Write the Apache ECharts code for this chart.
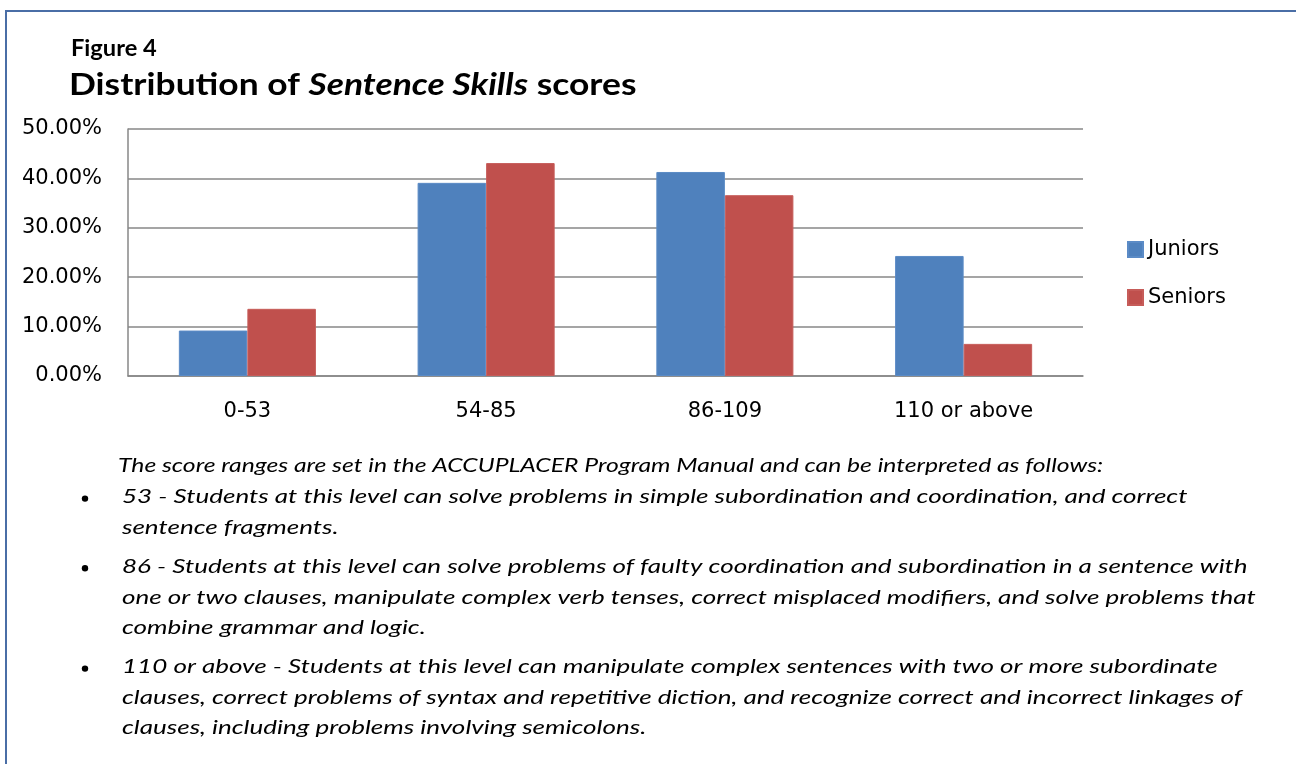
<!DOCTYPE html>
<html>
<head>
<meta charset="utf-8">
<script src="https://cdn.jsdelivr.net/npm/echarts@6/dist/echarts.min.js"></script>
<style>
html,body{margin:0;padding:0;background:#fff;}
#chart{width:1296px;height:764px;}
</style>
</head>
<body>
<div id="chart"></div>
<script>
const categories = ['0-53', '54-85', '86-109', '110 or above'];
const juniors = [0.092, 0.391, 0.413, 0.243];
const seniors = [0.136, 0.431, 0.366, 0.065];
const seriesNames = ['Juniors', 'Seniors'];
const yTicks = { min: 0, max: 0.5, interval: 0.1 };
const noteIntro = 'The score ranges are set in the ACCUPLACER Program Manual and can be interpreted as follows:';
const bullets = [
  ['53 - Students at this level can solve problems in simple subordination and coordination, and correct', 'sentence fragments.'],
  ['86 - Students at this level can solve problems of faulty coordination and subordination in a sentence with', 'one or two clauses, manipulate complex verb tenses, correct misplaced modifiers, and solve problems that', 'combine grammar and logic.'],
  ['110 or above - Students at this level can manipulate complex sentences with two or more subordinate', 'clauses, correct problems of syntax and repetitive diction, and recognize correct and incorrect linkages of', 'clauses, including problems involving semicolons.']
];

const FONT = 'Lato, "Open Sans", sans-serif';
const AXFONT = '"DejaVu Sans", sans-serif';
const chart = echarts.init(document.getElementById('chart'), null, { renderer: 'canvas' });

const graphics = [
  { type: 'rect', shape: { x: 6, y: 11, width: 1400, height: 900 }, style: { fill: 'none', stroke: '#4a6ea6', lineWidth: 2 }, silent: true },
  { type: 'text', x: 71, y: 38, scaleX: 1.075, style: { text: 'Figure 4', font: 'bold 22px ' + FONT, fill: '#000' } },
  { type: 'text', x: 69, y: 70, scaleX: 1.18, style: {
      text: '{b|Distribution of }{bi|Sentence Skills}{b| scores}',
      rich: {
        b: { font: 'bold 30px ' + FONT, fill: '#000' },
        bi: { font: 'italic bold 30px ' + FONT, fill: '#000' }
      }
  } }
];
const lineStep = 30.6;
let y = 456;
graphics.push({ type: 'text', x: 118, y: y, scaleX: 1.30, style: { text: noteIntro, font: 'italic 19px ' + FONT, fill: '#000' } });
y += lineStep + 1;
bullets.forEach(function (lines) {
  graphics.push({ type: 'circle', shape: { cx: 85, cy: y + 11, r: 3.2 }, style: { fill: '#000' } });
  lines.forEach(function (t) {
    graphics.push({ type: 'text', x: 122, y: y, scaleX: 1.37, style: { text: t, font: 'italic 19px ' + FONT, fill: '#000' } });
    y += lineStep;
  });
  y += 8.5;
});

chart.setOption({
  animation: false,
  textStyle: { fontFamily: AXFONT },
  grid: { left: 128, top: 129, right: 213, bottom: 388, containLabel: false },
  legend: {
    orient: 'vertical', left: 1127, top: 239, padding: 0,
    itemWidth: 15, itemHeight: 15, itemGap: 27,
    icon: 'rect',
    textStyle: { fontSize: 21, color: '#000', fontFamily: AXFONT, lineHeight: 21 },
    data: seriesNames
  },
  xAxis: {
    type: 'category', data: categories,
    axisLine: { lineStyle: { color: '#878787', width: 1.5 } },
    axisTick: { show: false },
    axisLabel: { fontSize: 21, color: '#000', margin: 25, fontFamily: AXFONT },
    splitLine: { show: false }
  },
  yAxis: {
    type: 'value', min: yTicks.min, max: yTicks.max, interval: yTicks.interval,
    axisLine: { show: true, lineStyle: { color: '#878787', width: 1.5 } },
    axisTick: { show: false },
    axisLabel: { fontSize: 21, color: '#000', margin: 26, fontFamily: AXFONT,
      formatter: function (v) { return (v * 100).toFixed(2) + '%'; } },
    splitLine: { lineStyle: { color: '#878787', width: 1.5 } }
  },
  series: [
    { name: seriesNames[0], type: 'bar', data: juniors, barGap: '0%', barCategoryGap: '42.6%',
      itemStyle: { color: '#4f81bd', borderColor: '#5b8bc6', borderWidth: 1 } },
    { name: seriesNames[1], type: 'bar', data: seniors, barGap: '0%', barCategoryGap: '42.6%',
      itemStyle: { color: '#c0504d', borderColor: '#c65c59', borderWidth: 1 } }
  ],
  graphic: graphics
});
</script>
</body>
</html>
